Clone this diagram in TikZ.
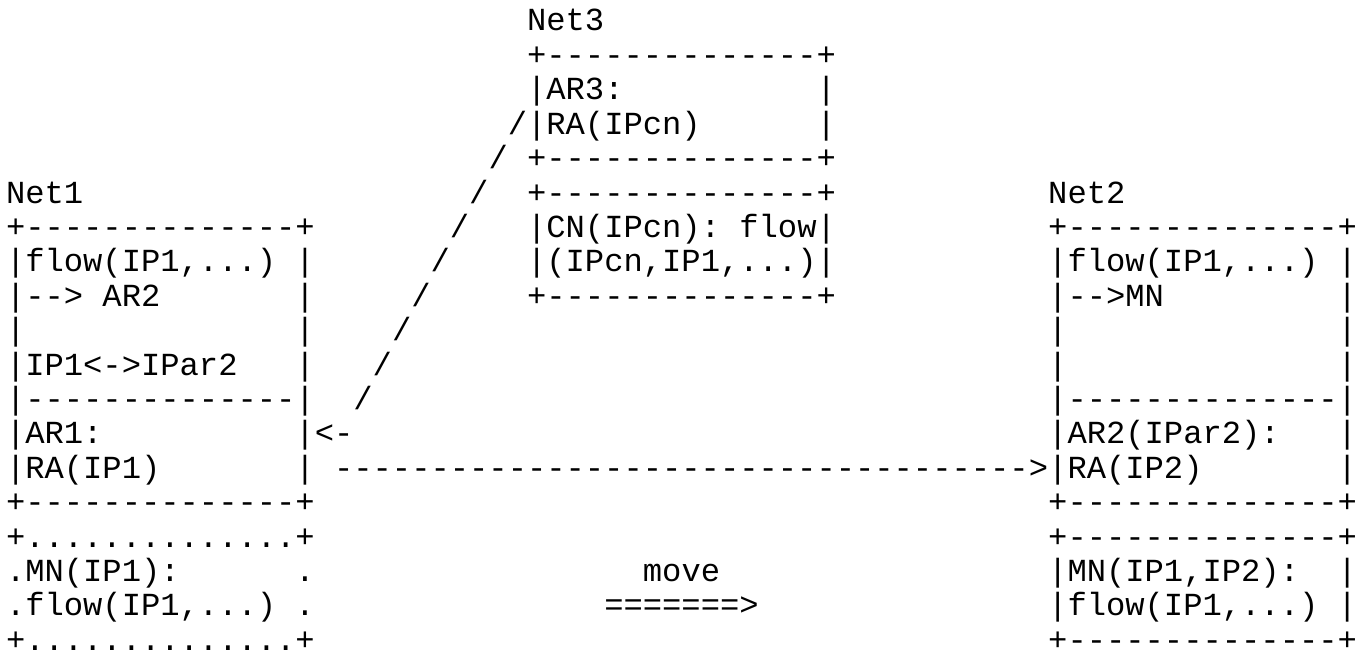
\documentclass[tikz,border=0pt]{standalone}
\usepackage{fontspec}
\setmonofont{Liberation Mono}
\tikzset{
  t/.style={font=\ttfamily\fontsize{32.16pt}{34.4pt}\selectfont, anchor=base west, inner sep=0pt, outer sep=0pt, text=black}
}
\begin{document}
\begin{tikzpicture}[x=19.3pt, y=-34.4pt]
\useasboundingbox[fill=white] (-0.311,-0.9012) rectangle (70.052,18.110);
% Net3
\node[t] (net3) at (27,0) {Net3};
\node[t] (n3a) at (27,1) {+--------------+};
\node[t] (n3b) at (27,2) {|AR3:~~~~~~~~~~|};
\node[t] (n3c) at (27,3) {|RA(IPcn)~~~~~~|};
\node[t] (n3d) at (27,4) {+--------------+};
\node[t] (n3e) at (27,5) {+--------------+};
\node[t] (n3f) at (27,6) {|CN(IPcn):~flow|};
\node[t] (n3g) at (27,7) {|(IPcn,IP1,...)|};
\node[t] (n3h) at (27,8) {+--------------+};
% slash line
\node[t] (s3) at (26,3) {/};
\node[t] (s4) at (25,4) {/};
\node[t] (s5) at (24,5) {/};
\node[t] (s6) at (23,6) {/};
\node[t] (s7) at (22,7) {/};
\node[t] (s8) at (21,8) {/};
\node[t] (s9) at (20,9) {/};
\node[t] (s10) at (19,10) {/};
\node[t] (s11) at (18,11) {/};
\node[t] (arl) at (16,12) {<-};
% Net1
\node[t] (net1) at (0,5) {Net1};
\node[t] (n1a) at (0,6) {+--------------+};
\node[t] (n1b) at (0,7) {|flow(IP1,...)~|};
\node[t] (n1c) at (0,8) {|-->~AR2~~~~~~~|};
\node[t] (n1d) at (0,9) {|~~~~~~~~~~~~~~|};
\node[t] (n1e) at (0,10) {|IP1<->IPar2~~~|};
\node[t] (n1f) at (0,11) {|--------------|};
\node[t] (n1g) at (0,12) {|AR1:~~~~~~~~~~|};
\node[t] (n1h) at (0,13) {|RA(IP1)~~~~~~~|};
\node[t] (n1i) at (0,14) {+--------------+};
\node[t] (n1j) at (0,15) {+..............+};
\node[t] (n1k) at (0,16) {.MN(IP1):~~~~~~.};
\node[t] (n1l) at (0,17) {.flow(IP1,...)~.};
\node[t] (n1m) at (0,18) {+..............+};
% arrow
\node[t] (arr) at (17,13) {------------------------------------>};
% move
\node[t] (move) at (33,16) {move};
\node[t] (mvarr) at (31,17) {=======>};
% Net2
\node[t] (net2) at (54,5) {Net2};
\node[t] (n2a) at (54,6) {+--------------+};
\node[t] (n2b) at (54,7) {|flow(IP1,...)~|};
\node[t] (n2c) at (54,8) {|-->MN~~~~~~~~~|};
\node[t] (n2d) at (54,9) {|~~~~~~~~~~~~~~|};
\node[t] (n2e) at (54,10) {|~~~~~~~~~~~~~~|};
\node[t] (n2f) at (54,11) {|--------------|};
\node[t] (n2g) at (54,12) {|AR2(IPar2):~~~|};
\node[t] (n2h) at (54,13) {|RA(IP2)~~~~~~~|};
\node[t] (n2i) at (54,14) {+--------------+};
\node[t] (n2j) at (54,15) {+--------------+};
\node[t] (n2k) at (54,16) {|MN(IP1,IP2):~~|};
\node[t] (n2l) at (54,17) {|flow(IP1,...)~|};
\node[t] (n2m) at (54,18) {+--------------+};
\end{tikzpicture}
\end{document}
